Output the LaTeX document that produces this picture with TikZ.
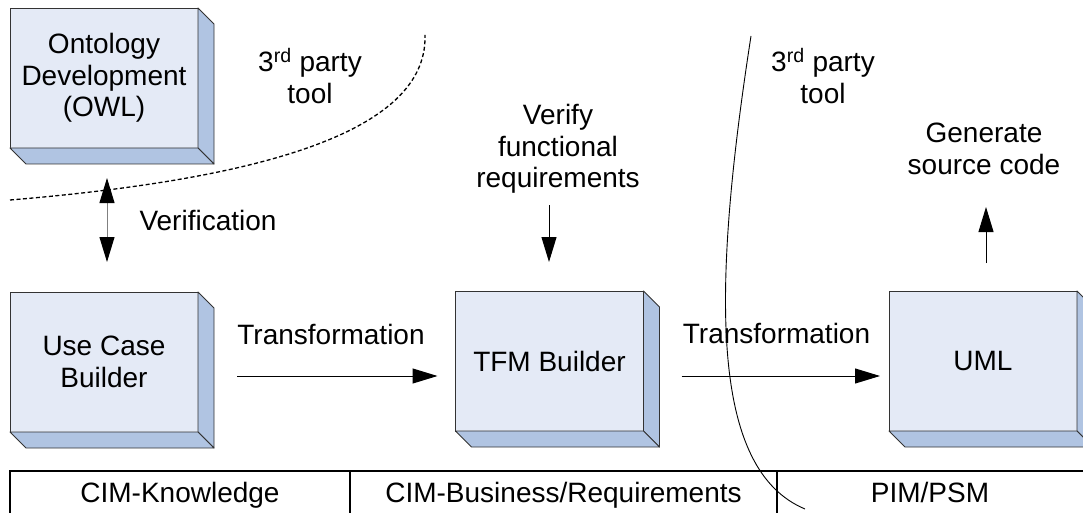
\documentclass[tikz,border=0pt]{standalone}
\usepackage{fontspec}
\setmainfont{Liberation Sans}
\usetikzlibrary{arrows.meta,calc}

\definecolor{frontblue}{HTML}{E4EAF6}
\definecolor{sideblue}{HTML}{B0C4E2}
\definecolor{edgegray}{HTML}{333333}

\tikzset{bigtip/.tip={Triangle[length=25pt,width=15pt,color=black]}}

\begin{document}
\begin{tikzpicture}[x=1pt,y=-1pt,
  every node/.style={font=\fontsize{28}{31.5}\selectfont, inner sep=0pt, outer sep=0pt},
  blockbox/.style={draw=edgegray, line width=0.9pt, fill=frontblue,
    minimum width=188pt, minimum height=140pt, align=center},
  sideface/.style={draw=edgegray, line width=0.9pt, fill=sideblue, line join=round},
  lbl/.style={align=center},
  celltext/.style={anchor=base},
  arr/.style={line width=1pt, -bigtip},
  boundary/.style={line width=0.9pt},
  toolline/.style={line width=1.3pt, dash pattern=on 4pt off 2.5pt},
  tablerule/.style={line width=2pt}
]
\useasboundingbox (0,0) rectangle (1083,513);
\begin{scope}
\clip (0,0) rectangle (1083,513);

% ---- blocks ----
\node[blockbox] (onto) at (104,78)    {Ontology\\Development\\(OWL)};
\node[blockbox] (uc)   at (104,362)   {Use Case\\Builder};
\node[blockbox] (tfm)  at (549.5,361) {TFM Builder};
\node[blockbox] (uml)  at (983,361)   {UML};

% 3D sides of the blocks
\foreach \n in {onto,uc,tfm,uml}{
  \draw[sideface] (\n.north east) -- ++(16,16) -- ($(\n.south east)+(16,16)$)
    -- (\n.south east) -- cycle;
  \draw[sideface] (\n.south west) -- (\n.south east) -- ++(16,16)
    -- ($(\n.south west)+(16,16)$) -- cycle;
}

% ---- tool boundaries ----
\draw[toolline] (10,200) .. controls (250,180) and (428,135) .. (425,35);
\draw[boundary] (751,36) .. controls (710,300) and (712,470) .. (805,509);

% ---- labels ----
\node[lbl] (tool1) at (310,76) {3\textsuperscript{rd} party\\tool};
\node[lbl] (tool2) at (823,76) {3\textsuperscript{rd} party\\tool};
\node[lbl] (verif) at (208,220) {Verification};
\node[lbl] (trans1) at (331,334) {Transformation};
\node[lbl] (trans2) at (776.5,333) {Transformation};
\node[lbl] (vfr) at (558,149) {Verify\\functional\\requirements};
\node[lbl] (gen) at (984,149) {Generate\\source code};

% ---- arrows ----
\coordinate (vtop) at (107,178);
\coordinate (vbot) at (107,262);
\draw[line width=1pt, draw=gray, bigtip-bigtip] (vtop) -- (vbot);

\coordinate (t1a) at ($(uc.east)+(39,14)$);
\coordinate (t1b) at ($(tfm.west)+(-18,15)$);
\draw[arr] (t1a) -- (t1b);

\coordinate (t2a) at ($(tfm.east)+(38,15)$);
\coordinate (t2b) at ($(uml.west)+(-9,15)$);
\draw[arr] (t2a) -- (t2b);

\coordinate (vfa) at (549,205);
\coordinate (vfb) at (549,262);
\draw[arr] (vfa) -- (vfb);

\coordinate (gna) at (986,263);
\coordinate (gnb) at (986,207);
\draw[arr] (gna) -- (gnb);

% ---- model levels table ----
\draw[tablerule] (10,520) -- (10,471) -- (1090,471);
\draw[tablerule] (350,471) -- (350,520);
\draw[tablerule] (777,471) -- (777,520);
\node[celltext] (cimk) at (180,502)   {CIM-Knowledge};
\node[celltext] (cimb) at (563.5,502) {CIM-Business/Requirements};
\node[celltext] (pim)  at (930,502)   {PIM/PSM};
\end{scope}
\end{tikzpicture}
\end{document}
